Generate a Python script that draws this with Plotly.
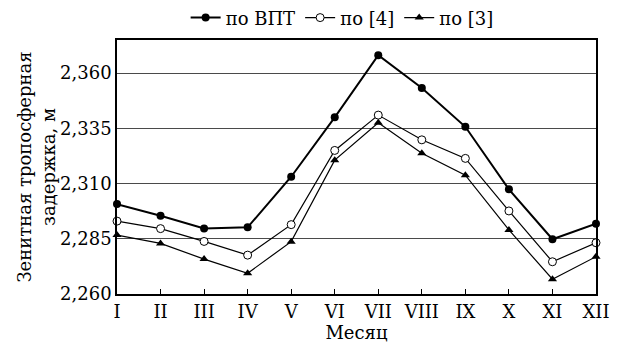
import plotly.graph_objects as go

months = ["I", "II", "III", "IV", "V", "VI", "VII", "VIII", "IX", "X", "XI", "XII"]
vpt = [2.3007, 2.2954, 2.2897, 2.2902, 2.3131, 2.3400, 2.3681, 2.3533, 2.3357, 2.3074, 2.2848, 2.2918]
ref4 = [2.2930, 2.2896, 2.2838, 2.2776, 2.2914, 2.3250, 2.3410, 2.3298, 2.3214, 2.2976, 2.2746, 2.2832]
ref3 = [2.2867, 2.2829, 2.2758, 2.2694, 2.2837, 2.3206, 2.3375, 2.3237, 2.3138, 2.2890, 2.2667, 2.2769]
y_ticks = [2.260, 2.285, 2.310, 2.335, 2.360]

FONT = "DejaVu Serif"

fig = go.Figure()
fig.add_trace(go.Scatter(x=months, y=vpt, name="по ВПТ", mode="lines+markers",
                         line=dict(color="black", width=2),
                         marker=dict(symbol="circle", size=8, color="black"),
                         cliponaxis=False))
fig.add_trace(go.Scatter(x=months, y=ref4, name="по [4]", mode="lines+markers",
                         line=dict(color="black", width=1.2),
                         marker=dict(symbol="circle", size=8, color="white",
                                     line=dict(color="black", width=1)),
                         cliponaxis=False))
fig.add_trace(go.Scatter(x=months, y=ref3, name="по [3]", mode="lines+markers",
                         line=dict(color="black", width=1.2),
                         marker=dict(symbol="triangle-up", size=8, color="black"),
                         cliponaxis=False))

# page body has an 8px default margin, so the figure is sized to fit the window
fig.update_layout(
    width=613, height=336,
    margin=dict(l=109, r=25, t=32, b=50, autoexpand=False),
    paper_bgcolor="white", plot_bgcolor="white",
    font=dict(family=FONT, size=18, color="black"),
    separators=",.",
    showlegend=True,
    legend=dict(orientation="h", x=0.47, xanchor="center", y=1.087, yanchor="middle",
                font=dict(size=18), itemwidth=30, tracegroupgap=0,
                bgcolor="rgba(0,0,0,0)"),
)
fig.update_xaxes(
    type="category", range=[0, 11], automargin=False,
    showline=True, linecolor="black", linewidth=1.5, mirror=True,
    ticks="inside", ticklen=5, tickcolor="black",
    showgrid=False, zeroline=False,
    tickfont=dict(size=18), ticklabelstandoff=1,
    title=dict(text="Месяц", font=dict(size=18), standoff=3),
)
fig.update_yaxes(
    range=[2.260, 2.375], tickvals=y_ticks, tickformat=".3f", automargin=False,
    showline=True, linecolor="black", linewidth=1.5, mirror=True,
    ticks="", showgrid=True, gridcolor="#4a4a4a", gridwidth=1,
    zeroline=False, tickfont=dict(size=18),
    title=dict(text="Зенитная тропосферная<br>задержка, м", font=dict(size=18), standoff=0),
)

fig.write_html("out.html")
